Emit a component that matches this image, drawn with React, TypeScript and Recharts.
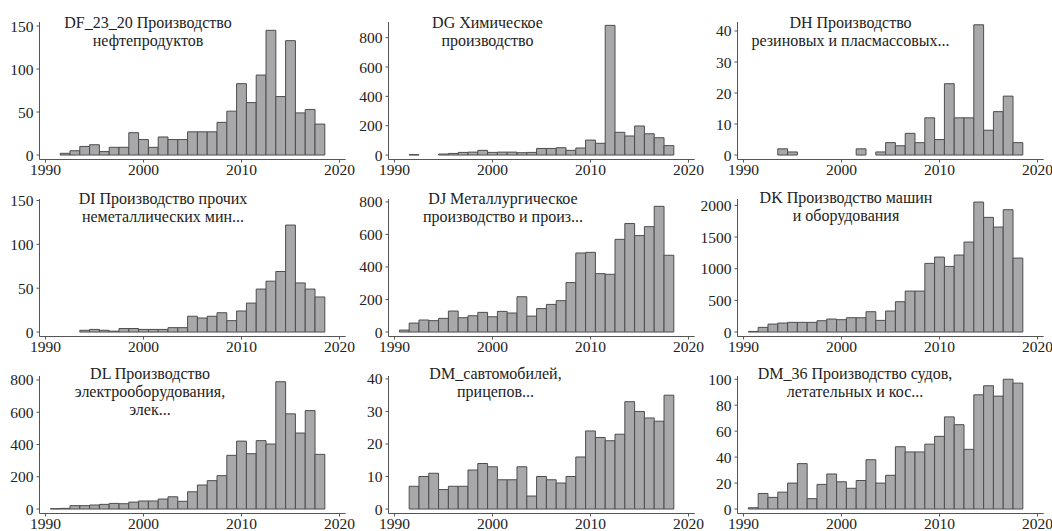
import React from 'react';
import { BarChart, Bar, XAxis, YAxis } from 'recharts';

const years = [1991, 1992, 1993, 1994, 1995, 1996, 1997, 1998, 1999, 2000, 2001, 2002, 2003, 2004, 2005, 2006, 2007, 2008, 2009, 2010, 2011, 2012, 2013, 2014, 2015, 2016, 2017, 2018];
const xTicks = [1990, 2000, 2010, 2020];

const dfValues = [null, 2, 5, 10, 12, 4, 9, 9, 26, 18, 9, 21, 18, 18, 27, 27, 27, 38, 51, 83, 61, 93, 145, 68, 133, 49, 53, 36];
const dgValues = [null, 3, null, null, 7, 11, 18, 20, 32, 18, 20, 20, 16, 18, 45, 45, 50, 32, 48, 102, 80, 884, 155, 130, 198, 145, 118, 64];
const dhValues = [null, null, null, 2, 1, null, null, null, null, null, null, 2, null, 1, 4, 3, 7, 4, 12, 5, 23, 12, 12, 42, 8, 14, 19, 4];
const diValues = [null, null, null, 2, 3, 2, 1, 4, 4, 3, 3, 3, 5, 5, 18, 16, 18, 22, 13, 24, 33, 49, 58, 69, 122, 56, 49, 40];
const djValues = [12, 55, 74, 70, 84, 129, 88, 100, 121, 94, 127, 117, 217, 98, 144, 170, 193, 304, 486, 490, 359, 355, 570, 667, 593, 648, 773, 472];
const dkValues = [10, 74, 126, 142, 153, 153, 153, 179, 205, 195, 226, 226, 321, 184, 332, 479, 647, 647, 1084, 1184, 1037, 1216, 1421, 2053, 1811, 1658, 1932, 1168];
const dlValues = [2, 4, 21, 21, 25, 29, 35, 33, 43, 50, 50, 62, 76, 48, 107, 149, 176, 207, 333, 421, 343, 424, 403, 789, 590, 471, 610, 339];
const dmValues = [null, 7, 10, 11, 6, 7, 7, 12, 14, 13, 9, 9, 13, 4, 10, 9, 8, 10, 16, 24, 22, 21, 23, 33, 30, 28, 27, 35];
const dm36Values = [1, 12, 9, 13, 20, 35, 8, 19, 27, 21, 16, 22, 38, 20, 26, 48, 44, 44, 50, 56, 71, 65, 46, 88, 95, 87, 100, 97];

const ticks150 = [0, 50, 100, 150];
const ticks800 = [0, 200, 400, 600, 800];
const ticks40 = [0, 10, 20, 30, 40];
const ticks2000 = [0, 500, 1000, 1500, 2000];
const ticks100 = [0, 20, 40, 60, 80, 100];

const dfTitle = ['DF_23_20 Производство', 'нефтепродуктов'];
const dgTitle = ['DG Химическое', 'производство'];
const dhTitle = ['DH Производство', 'резиновых и пласмассовых...'];
const diTitle = ['DI Производство прочих', 'неметаллических мин...'];
const djTitle = ['DJ Металлургическое', 'производство и произ...'];
const dkTitle = ['DK Производство машин', 'и оборудования'];
const dlTitle = ['DL Производство', 'электрооборудования,', 'элек...'];
const dmTitle = ['DM_савтомобилей,', 'прицепов...'];
const dm36Title = ['DM_36 Производство судов,', 'летательных и кос...'];

type PanelDef = {
  title: string[];
  values: (number | null)[];
  yTicks: number[];
  yMax: number;
  titleX: number;
  titleY: number;
};

const panels: PanelDef[] = [
  { title: dfTitle, values: dfValues, yTicks: ticks150, yMax: 154.7, titleX: 148, titleY: 28.3 },
  { title: dgTitle, values: dgValues, yTicks: ticks800, yMax: 907, titleX: 138.5, titleY: 28.3 },
  { title: dhTitle, values: dhValues, yTicks: ticks40, yMax: 42.9, titleX: 152.5, titleY: 28.3 },
  { title: diTitle, values: diValues, yTicks: ticks150, yMax: 151.7, titleX: 163, titleY: 27.3 },
  { title: djTitle, values: djValues, yTicks: ticks800, yMax: 818, titleX: 154, titleY: 26.7 },
  { title: dkTitle, values: dkValues, yTicks: ticks2000, yMax: 2101, titleX: 148, titleY: 26.3 },
  { title: dlTitle, values: dlValues, yTicks: ticks800, yMax: 824.6, titleX: 150, titleY: 25.3 },
  { title: dmTitle, values: dmValues, yTicks: ticks40, yMax: 40.9, titleX: 146.5, titleY: 24.5 },
  { title: dm36Title, values: dm36Values, yTicks: ticks100, yMax: 102.5, titleX: 157, titleY: 25.3 },
];

const PANEL_W = 349;
const PANEL_H = 177;
const FONT = "'Liberation Serif', 'DejaVu Serif', serif";
const tickStyle = { fontFamily: FONT, fontSize: 15.5, fill: '#222' };

const css = `
.recharts-surface { overflow: visible; }
.recharts-wrapper { overflow: visible; }
.recharts-cartesian-axis-tick-value, .recharts-cartesian-axis-tick-value tspan {
  font-family: 'Liberation Serif', 'DejaVu Serif', serif;
  font-size: 15.5px;
  fill: #222;
}
`;

function Panel({ p, left, top }: { p: PanelDef; left: number; top: number }) {
  const data = years.map((y, i) => ({ year: y, value: p.values[i] }));
  const lo = -p.yMax * 0.0335;
  return (
    <div style={{ position: 'absolute', left, top, width: PANEL_W, height: PANEL_H, fontFamily: FONT }}>
      <BarChart
        width={PANEL_W}
        height={PANEL_H}
        data={data}
        margin={{ top: 22, right: 3.3, bottom: 0, left: 0 }}
        barCategoryGap={0}
        barGap={0}
        style={{ overflow: 'visible' }}
      >
        <XAxis
          dataKey="year"
          type="number"
          domain={[1989.39, 2020.63]}
          allowDataOverflow
          ticks={xTicks}
          interval={0}
          height={17.5}
          tickSize={3}
          tickMargin={1}
          tick={tickStyle}
          stroke="#555"
        />
        <YAxis
          type="number"
          domain={[lo, p.yMax]}
          allowDataOverflow
          ticks={p.yTicks}
          interval={0}
          width={39.5}
          tickSize={3}
          tickMargin={3}
          tick={tickStyle}
          stroke="#555"
        />
        <Bar
          dataKey="value"
          fill="#a8a8aa"
          stroke="#4d4d4d"
          strokeWidth={1}
          barSize={9.8}
          isAnimationActive={false}
        />
      </BarChart>
      <svg
        style={{ position: 'absolute', left: 0, top: 0, pointerEvents: 'none', overflow: 'visible' }}
        width={PANEL_W}
        height={PANEL_H}
      >
        {p.title.map((t, i) => (
          <text
            key={i}
            x={p.titleX}
            y={p.titleY + i * 18}
            textAnchor="middle"
            fontFamily={FONT}
            fontSize={16}
            fill="#222"
          >
            {t}
          </text>
        ))}
      </svg>
    </div>
  );
}

export default function App() {
  return (
    <div style={{ position: 'absolute', left: 0, top: 0, width: 1052, height: 531, background: '#fff' }}>
      <style>{css}</style>
      {panels.map((p, i) => (
        <Panel key={i} p={p} left={(i % 3) * PANEL_W} top={Math.floor(i / 3) * PANEL_H} />
      ))}
    </div>
  );
}
